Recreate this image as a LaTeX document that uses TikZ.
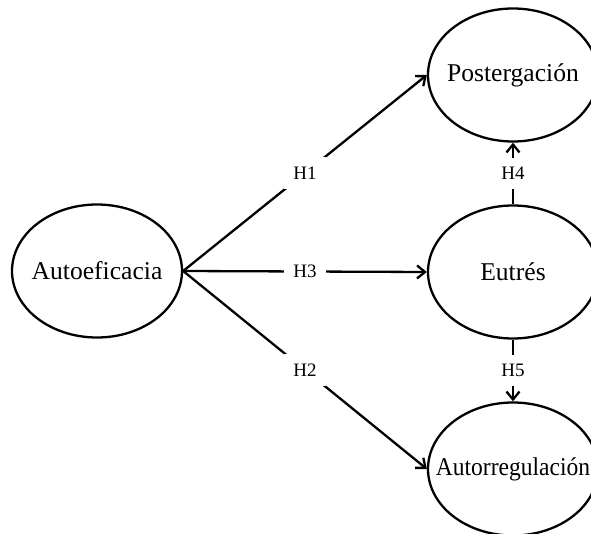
\documentclass[tikz,border=0pt]{standalone}
\usepackage{fontspec}
\setmainfont{Liberation Serif}
\usetikzlibrary{arrows.meta,shapes.geometric}

\begin{document}
\begin{tikzpicture}[x=1pt,y=-1pt, line width=2.3pt,
  var/.style={draw, ellipse, minimum width=170pt, minimum height=133pt, inner sep=0pt},
  vartext/.style={inner sep=0pt, font=\fontsize{25.6}{30}\selectfont},
  hyp/.style={fill=white, inner sep=9.5pt, font=\fontsize{19}{22}\selectfont},
  link/.style={-{Straight Barb[length=8pt,width=13pt]}}]

\clip (0,0) rectangle (591,534);

\node[var, label={[vartext]center:Autoeficacia}] (auto) at (97,271) {};
\node[var, label={[vartext]center:Postergación}] (post) at (513,75) {};
\node[var, label={[vartext]center:Eutrés}] (eut) at (513,272) {};
\node[var, label={[vartext]center:\scalebox{0.92}[1]{Autorregulación}}] (autor) at (513,469) {};

\draw[link] (auto.east) -- node[hyp] (h1) {H1} (post.west);
\draw[link] (auto.east) -- node[hyp] (h2) {H2} (autor.west);
\draw[link] (auto.east) -- node[hyp] (h3) {H3} (eut.west);
\draw[link] (eut.north) -- node[hyp] (h4) {H4} (post.south); % hacia arriba
\draw[link] (eut.south) -- node[hyp] (h5) {H5} (autor.north);

\end{tikzpicture}
\end{document}
